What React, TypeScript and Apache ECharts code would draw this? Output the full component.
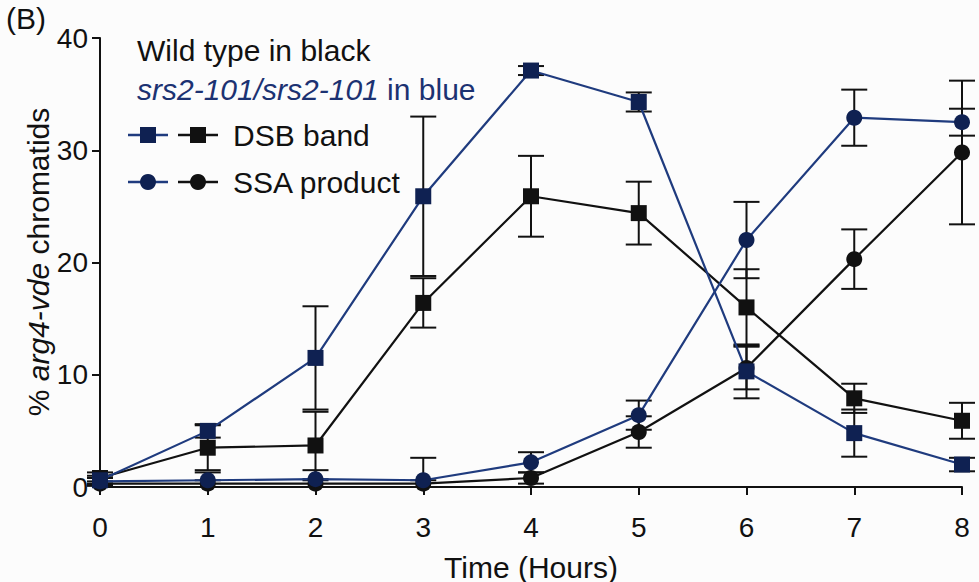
import React, { useEffect, useRef } from "react";
import * as echarts from "echarts";

// Time points (hours after induction)
const hours = [0, 1, 2, 3, 4, 5, 6, 7, 8];

// Wild type (black)
const dsbWild = [0.8, 3.5, 3.7, 16.4, 25.9, 24.4, 16.0, 7.9, 5.9];
const dsbWildErr = [0.5, 2.0, 3.0, 2.2, 3.6, 2.8, 3.4, 1.3, 1.6];
const ssaWild = [0.3, 0.3, 0.3, 0.3, 0.8, 4.9, 10.6, 20.3, 29.8];
const ssaWildErr = [0.2, 0.3, 0.3, 0.3, 0.5, 1.4, 1.9, 2.65, 6.4];

// srs2-101/srs2-101 (blue)
const dsbSrs2 = [0.6, 5.0, 11.5, 25.9, 37.1, 34.3, 10.3, 4.8, 2.0];
const dsbSrs2Err = [0.4, 0.6, 4.6, 7.1, 0.4, 0.85, 2.4, 2.1, 0.6];
const ssaSrs2 = [0.5, 0.6, 0.7, 0.6, 2.2, 6.4, 22.0, 32.9, 32.5];
const ssaSrs2Err = [0.3, 0.7, 0.8, 2.0, 0.9, 1.3, 3.4, 2.5, 1.2];

const yTicks = [0, 10, 20, 30, 40];

const FONT = "'Liberation Sans', Arial, Helvetica, sans-serif";
const BLACK = "#111111";
const NAVY_LINE = "#1f3b7e";
const NAVY_MARK = "#0f2152";
const NAVY_TEXT = "#1c3272";

function errorSeries(values: number[], errs: number[]) {
  return {
    type: "custom",
    z: 1,
    silent: true,
    clip: false,
    encode: { x: 0, y: 1 },
    data: hours.map((h, i) => [h, values[i], errs[i]]),
    renderItem: (_params: any, api: any) => {
      const x = api.value(0);
      const y = api.value(1);
      const e = api.value(2);
      const top = api.coord([x, y + e]);
      const bot = api.coord([x, Math.max(0, y - e)]);
      const hw = 13;
      const style = { stroke: BLACK, lineWidth: 2 };
      return {
        type: "group",
        children: [
          { type: "line", shape: { x1: top[0], y1: top[1], x2: bot[0], y2: bot[1] }, style },
          { type: "line", shape: { x1: top[0] - hw, y1: top[1], x2: top[0] + hw, y2: top[1] }, style },
          { type: "line", shape: { x1: bot[0] - hw, y1: bot[1], x2: bot[0] + hw, y2: bot[1] }, style },
        ],
      };
    },
  };
}

function lineSeries(name: string, values: number[], symbol: string, lineColor: string, markColor: string) {
  return {
    name,
    type: "line",
    z: 3,
    data: hours.map((h, i) => [h, values[i]]),
    symbol,
    symbolSize: 16,
    showSymbol: true,
    lineStyle: { color: lineColor, width: 2.2 },
    itemStyle: { color: markColor, borderWidth: 0 },
    emphasis: { disabled: true },
  };
}

function legendRow(y: number, symbol: "rect" | "circle", label: string) {
  const items: any[] = [];
  const glyph = (cx: number, lineColor: string, markColor: string) => {
    items.push({
      type: "line",
      shape: { x1: cx - 20, y1: y, x2: cx + 20, y2: y },
      style: { stroke: lineColor, lineWidth: 2.5 },
    });
    if (symbol === "rect") {
      items.push({ type: "rect", shape: { x: cx - 8, y: y - 8, width: 16, height: 16 }, style: { fill: markColor } });
    } else {
      items.push({ type: "circle", shape: { cx, cy: y, r: 8 }, style: { fill: markColor } });
    }
  };
  glyph(148, NAVY_LINE, NAVY_MARK);
  glyph(198, BLACK, BLACK);
  items.push({
    type: "text",
    x: 233,
    y,
    style: { text: label, fontSize: 30, fontFamily: FONT, fill: BLACK, verticalAlign: "middle", align: "left" },
  });
  return items;
}

export default function App() {
  const ref = useRef<HTMLDivElement>(null);

  useEffect(() => {
    if (!ref.current) return;
    const chart = echarts.init(ref.current, undefined, { renderer: "svg" });
    const axisCommon = {
      type: "value",
      axisLine: { show: true, onZero: true, lineStyle: { color: BLACK, width: 2 } },
      axisTick: { show: true, inside: false, length: 8, lineStyle: { color: BLACK, width: 2 } },
      splitLine: { show: false },
    };
    chart.setOption({
      animation: false,
      backgroundColor: "#fcfcfc",
      textStyle: { fontFamily: FONT },
      grid: { left: 100, right: 17, top: 38, bottom: 95, containLabel: false },
      xAxis: {
        ...axisCommon,
        min: 0,
        max: 8,
        interval: 1,
        axisLabel: { fontSize: 28, color: BLACK, margin: 26, fontFamily: FONT },
      },
      yAxis: {
        ...axisCommon,
        min: yTicks[0],
        max: yTicks[yTicks.length - 1],
        interval: 10,
        axisLabel: { fontSize: 28, color: BLACK, margin: 12, fontFamily: FONT },
      },
      series: [
        errorSeries(dsbWild, dsbWildErr),
        errorSeries(ssaWild, ssaWildErr),
        errorSeries(dsbSrs2, dsbSrs2Err),
        errorSeries(ssaSrs2, ssaSrs2Err),
        lineSeries("DSB band (wild type)", dsbWild, "rect", BLACK, BLACK),
        lineSeries("SSA product (wild type)", ssaWild, "circle", BLACK, BLACK),
        lineSeries("DSB band (srs2-101)", dsbSrs2, "rect", NAVY_LINE, NAVY_MARK),
        lineSeries("SSA product (srs2-101)", ssaSrs2, "circle", NAVY_LINE, NAVY_MARK),
      ],
      graphic: [
        {
          type: "text",
          x: 6,
          y: 18,
          style: { text: "(B)", fontSize: 30, fontFamily: FONT, fill: BLACK, verticalAlign: "middle" },
        },
        {
          type: "text",
          x: 38,
          y: 262,
          rotation: Math.PI / 2,
          style: {
            text: "{n|% }{i|arg4-vde}{n| chromatids}",
            align: "center",
            verticalAlign: "middle",
            fill: BLACK,
            rich: {
              n: { fontSize: 30, fontFamily: FONT, fill: BLACK },
              i: { fontSize: 30, fontFamily: FONT, fontStyle: "italic", fill: BLACK },
            },
          },
        },
        {
          type: "text",
          x: 531,
          y: 567,
          style: { text: "Time (Hours)", fontSize: 30, fontFamily: FONT, fill: BLACK, align: "center", verticalAlign: "middle" },
        },
        {
          type: "text",
          x: 137,
          y: 50,
          style: { text: "Wild type in black", fontSize: 30, fontFamily: FONT, fill: BLACK, verticalAlign: "middle" },
        },
        {
          type: "text",
          x: 137,
          y: 89,
          style: {
            text: "{i|srs2-101/srs2-101}{n| in blue}",
            verticalAlign: "middle",
            rich: {
              i: { fontSize: 30, fontFamily: FONT, fontStyle: "italic", fill: NAVY_TEXT },
              n: { fontSize: 30, fontFamily: FONT, fill: NAVY_TEXT },
            },
          },
        },
        ...legendRow(135, "rect", "DSB band"),
        ...legendRow(182, "circle", "SSA product"),
      ],
    });
    return () => chart.dispose();
  }, []);

  return (
    <div
      ref={ref}
      style={{ position: "fixed", left: 0, top: 0, width: 979, height: 582, background: "#fcfcfc" }}
    />
  );
}
